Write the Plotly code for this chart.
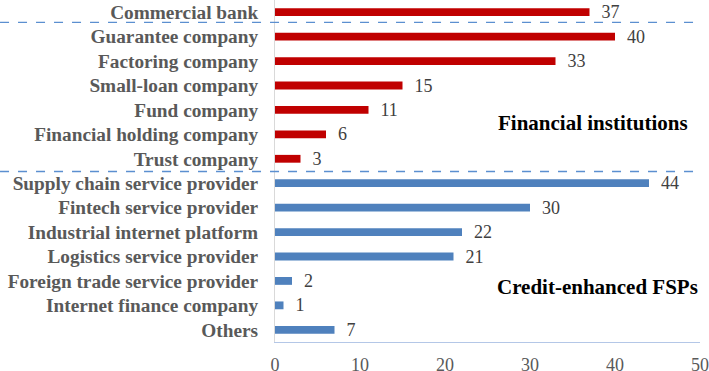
import plotly.graph_objects as go

categories = ["Commercial bank", "Guarantee company", "Factoring company", "Small-loan company",
              "Fund company", "Financial holding company", "Trust company",
              "Supply chain service provider", "Fintech service provider", "Industrial internet platform",
              "Logistics service provider", "Foreign trade service provider", "Internet finance company", "Others"]
values = [37, 40, 33, 15, 11, 6, 3, 44, 30, 22, 21, 2, 1, 7]
groups = ["fi"] * 7 + ["fsp"] * 7
x_ticks = [0, 10, 20, 30, 40, 50]

RED = "#C00000"
BLUE = "#4F81BD"
colors = [RED if g == "fi" else BLUE for g in groups]

fig = go.Figure()
fig.add_trace(go.Bar(
    y=categories, x=values, orientation="h",
    marker=dict(color=colors, line=dict(width=0)),
    width=0.32,
    text=["  " + str(v) for v in values], textposition="outside", cliponaxis=False,
    constraintext="none",
    textfont=dict(family="Liberation Serif", size=18, color="#404040"),
    hoverinfo="skip",
))

for yv in [0.42, 6.52]:
    fig.add_shape(type="line", xref="paper", yref="y", x0=-0.647, x1=0.99, y0=yv, y1=yv,
                  line=dict(color="#5B8FD0", width=1.3, dash="dash"))

fig.add_annotation(x=37.4, y=4.55, xref="x", yref="y", text="<b>Financial institutions</b>",
                   showarrow=False, font=dict(family="Liberation Serif", size=21, color="black"))
fig.add_annotation(x=37.9, y=11.25, xref="x", yref="y", text="<b>Credit-enhanced FSPs</b>",
                   showarrow=False, font=dict(family="Liberation Serif", size=21, color="black"))

fig.update_layout(
    width=709, height=371,
    margin=dict(l=275, r=9, t=0, b=29),
    plot_bgcolor="white", paper_bgcolor="white",
    showlegend=False,
    xaxis=dict(range=[0, 50], tickvals=x_ticks, showgrid=False, zeroline=False,
               showline=True, linecolor="#B4C7E7", linewidth=1, ticks="", automargin=False,
               ticklabelstandoff=6,
               tickfont=dict(family="Liberation Serif", size=18, color="#595959")),
    yaxis=dict(autorange="reversed", showgrid=False, zeroline=False, automargin=False,
               showline=True, linecolor="#D9D9D9", linewidth=1, ticks="", ticklabelstandoff=12,
               tickfont=dict(family="Liberation Serif", size=19.3, color="#595959"),
               tickprefix="<b>", ticksuffix="</b>"),
)

fig.write_html("out.html", config={"displayModeBar": False},
               post_script="document.body.style.margin='0';")
